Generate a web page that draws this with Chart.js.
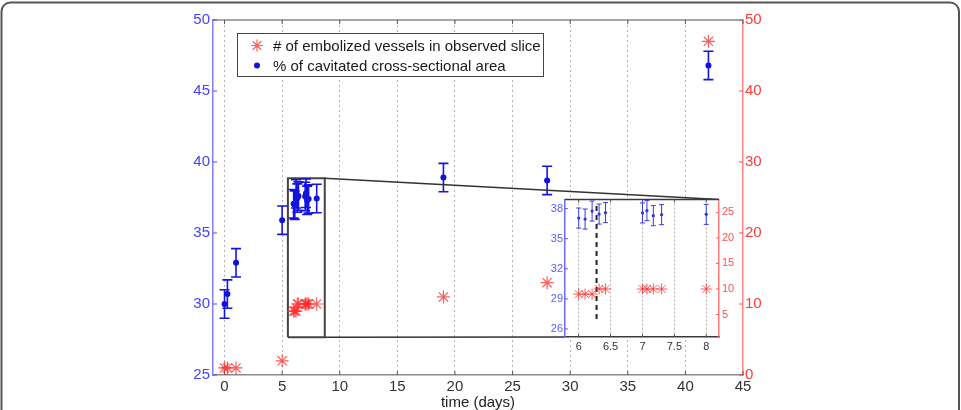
<!DOCTYPE html>
<html><head><meta charset="utf-8">
<script src="https://cdn.jsdelivr.net/npm/chart.js@4.4.0/dist/chart.umd.min.js"></script>
<style>
html,body{margin:0;padding:0;background:#fff;}
#wrap{position:relative;width:961px;height:410px;overflow:hidden;background:#fff;}
#main{position:absolute;left:0;top:0;}
#inset{position:absolute;left:535px;top:190px;}
</style></head><body>
<div id="wrap"><canvas id="main" width="961" height="410"></canvas><canvas id="inset" width="215" height="170"></canvas></div>
<script>
// ---------- data ----------
const embLabel = '# of embolized vessels in observed slice';
const cavLabel = '% of cavitated cross-sectional area';
const days     = [0, 0.25, 1, 5, 6, 6.1, 6.21, 6.32, 6.42, 7, 7.07, 7.17, 7.3, 8, 19, 28, 42];
const cavPct   = [30.0, 30.7, 32.9, 35.9, 37.06, 36.96, 37.76, 37.46, 37.6, 37.57, 37.8, 37.3, 37.4, 37.43, 38.9, 38.7, 46.8];
const cavErr   = [1, 1, 1, 1, 1, 1, 1, 1, 1, 1, 1, 1, 1, 1, 1, 1, 1];
const embCount = [1, 1, 1, 2, 9, 9, 9, 10, 10, 10, 10, 10, 10, 10, 11, 13, 47];
const xTicks          = [0, 5, 10, 15, 20, 25, 30, 35, 40, 45];
const yLeftTicks      = [25, 30, 35, 40, 45, 50];
const yRightTicks     = [0, 10, 20, 30, 40, 50];
const insetXTicks     = [6, 6.5, 7, 7.5, 8];
const insetLeftTicks  = [26, 29, 32, 35, 38];
const insetRightTicks = [5, 10, 15, 20, 25];
const zoomBoxDays = [5.5, 8.7];
const zoomBoxPct  = [27.65, 38.85];
const cutDay = 6.28;
const cutPct = [27.0, 38.5];
const insetRange = [5.785, 8.2];

// ---------- helpers ----------
const FONT = "'Liberation Sans', Arial, Helvetica, sans-serif";
const pts = (xs, ys) => xs.map((x, i) => ({x: x, y: ys[i]}));
const setTicks = arr => s => { s.ticks = arr.map(v => ({value: v})); };
const plain = v => String(v);
const inIdx = days.map((d, i) => i).filter(i => days[i] >= insetRange[0] && days[i] <= insetRange[1]);

function errorBarPlugin(cap, color, width) {
  return {
    id: 'errbars',
    afterDatasetsDraw(chart) {
      const ctx = chart.ctx;
      chart.data.datasets.forEach((ds, i) => {
        if (!ds.errors) return;
        const meta = chart.getDatasetMeta(i);
        const xs = chart.scales[meta.xAxisID], ys = chart.scales[meta.yAxisID];
        ctx.save();
        ctx.beginPath();
        ctx.rect(chart.chartArea.left, chart.chartArea.top, chart.chartArea.right - chart.chartArea.left, chart.chartArea.bottom - chart.chartArea.top);
        ctx.clip();
        ctx.strokeStyle = color; ctx.lineWidth = width;
        ctx.beginPath();
        ds.data.forEach((p, j) => {
          const e = ds.errors[j];
          const x = xs.getPixelForValue(p.x);
          const y1 = ys.getPixelForValue(p.y - e), y2 = ys.getPixelForValue(p.y + e);
          ctx.moveTo(x, y1); ctx.lineTo(x, y2);
          ctx.moveTo(x - cap, y1); ctx.lineTo(x + cap, y1);
          ctx.moveTo(x - cap, y2); ctx.lineTo(x + cap, y2);
        });
        ctx.stroke();
        ctx.restore();
      });
    }
  };
}

function inTicksPlugin(len, specs, topBorder, whiteBg) {
  return {
    id: 'inticks',
    beforeDraw(chart) {
      if (!whiteBg) return;
      const a = chart.chartArea, ctx = chart.ctx;
      ctx.save(); ctx.fillStyle = '#fff';
      ctx.fillRect(a.left, a.top, a.right - a.left, a.bottom - a.top);
      ctx.restore();
    },
    beforeDatasetsDraw(chart) {
      const {ctx, chartArea: a} = chart;
      ctx.save();
      if (topBorder) {
        ctx.strokeStyle = topBorder.color; ctx.lineWidth = topBorder.width;
        ctx.beginPath(); ctx.moveTo(a.left, a.top); ctx.lineTo(a.right, a.top); ctx.stroke();
      }
      specs.forEach(s => {
        const sc = chart.scales[s.id];
        ctx.strokeStyle = s.color; ctx.lineWidth = 1;
        ctx.beginPath();
        sc.ticks.forEach(t => {
          const p = sc.getPixelForValue(t.value);
          if (s.side === 'x') { ctx.moveTo(p, a.bottom); ctx.lineTo(p, a.bottom - len); ctx.moveTo(p, a.top); ctx.lineTo(p, a.top + len); }
          else if (s.side === 'left') { ctx.moveTo(a.left, p); ctx.lineTo(a.left + len, p); }
          else { ctx.moveTo(a.right, p); ctx.lineTo(a.right - len, p); }
        });
        ctx.stroke();
      });
      ctx.restore();
    }
  };
}

// ---------- inset chart ----------
const insetChart = new Chart(document.getElementById('inset'), {
  type: 'scatter',
  data: {
    datasets: [
      {label: cavLabel, data: pts(inIdx.map(i => days[i]), inIdx.map(i => cavPct[i])), errors: inIdx.map(i => cavErr[i]),
       yAxisID: 'yi', pointStyle: 'circle', pointRadius: 1.6, backgroundColor: '#2a2ae0', borderWidth: 0},
      {label: embLabel, data: pts(inIdx.map(i => days[i]), inIdx.map(i => embCount[i])),
       yAxisID: 'yi2', pointStyle: 'star', pointRadius: 5.5, borderColor: 'rgba(255,50,50,0.8)', borderWidth: 1},
      {label: 'cut', type: 'line', data: pts([cutDay, cutDay], cutPct), yAxisID: 'yi',
       borderColor: '#222', borderWidth: 2, borderDash: [5, 4], pointRadius: 0, fill: false}
    ]
  },
  options: {
    responsive: false, animation: false, devicePixelRatio: 1,
    layout: {padding: {top: 9, left: 0, right: 0, bottom: 0}},
    plugins: {legend: {display: false}, tooltip: {enabled: false}},
    scales: {
      x: {type: 'linear', position: 'bottom', min: insetRange[0], max: insetRange[1],
          afterBuildTicks: setTicks(insetXTicks), afterFit: s => { s.height = 23; },
          grid: {display: true, color: '#b0b0b0', lineWidth: 1, drawTicks: false},
          border: {display: true, color: '#3a3a3a', width: 1.5, dash: [2, 2]},
          ticks: {color: '#333', font: {family: FONT, size: 11}, padding: 3, maxRotation: 0, callback: plain}},
      yi: {type: 'linear', position: 'left', min: 25.2, max: 38.9,
           afterBuildTicks: setTicks(insetLeftTicks), afterFit: s => { s.width = 30; },
           grid: {display: false, drawTicks: false}, border: {display: true, color: '#6b6bff', width: 1.5},
           ticks: {color: '#5a5aff', font: {family: FONT, size: 11}, padding: 2, callback: plain}},
      yi2: {type: 'linear', position: 'right', min: 0.6, max: 27.5,
            afterBuildTicks: setTicks(insetRightTicks), afterFit: s => { s.width = 31; },
            grid: {display: false, drawTicks: false}, border: {display: true, color: '#ff7a7a', width: 1.5},
            ticks: {color: '#ff5050', font: {family: FONT, size: 11}, padding: 3, callback: plain}}
    }
  },
  plugins: [
    inTicksPlugin(3, [{id: 'yi', side: 'left', color: '#5a5aff'}, {id: 'yi2', side: 'right', color: '#ff5a5a'}, {id: 'x', side: 'x', color: '#555'}],
                  {color: '#3a3a3a', width: 1.5}, true),
    errorBarPlugin(2.5, '#3a3ae6', 1)
  ]
});

// ---------- main chart ----------
const insetCanvas = document.getElementById('inset');
const connectorPlugin = {
  id: 'connector',
  afterDatasetsDraw(chart) {
    const ctx = chart.ctx, xs = chart.scales.x, ys = chart.scales.y;
    const ia = insetChart.chartArea, ox = insetCanvas.offsetLeft, oy = insetCanvas.offsetTop;
    const bx = xs.getPixelForValue(zoomBoxDays[1]);
    const bt = ys.getPixelForValue(zoomBoxPct[1]), bb = ys.getPixelForValue(zoomBoxPct[0]);
    ctx.save();
    ctx.strokeStyle = '#333'; ctx.lineWidth = 1.5;
    ctx.beginPath();
    ctx.moveTo(bx, bt); ctx.lineTo(ox + ia.right, oy + ia.top);
    ctx.moveTo(bx, bb); ctx.lineTo(ox + ia.left, oy + ia.bottom);
    ctx.stroke();
    ctx.restore();
  }
};
const legendFramePlugin = {
  id: 'legendframe',
  afterDraw(chart) {
    const ctx = chart.ctx;
    ctx.save();
    const L = 237, T = 33, W = 306, H = 43;
    ctx.fillStyle = '#fff'; ctx.fillRect(L, T, W, H);
    ctx.strokeStyle = '#444'; ctx.lineWidth = 1; ctx.strokeRect(L + 0.5, T + 0.5, W, H);
    const ds = chart.data.datasets;
    const rows = [ds[0], ds[1]];
    rows.forEach((d, k) => {
      const cy = T + 12.5 + k * 20, mx = 257;
      if (d.pointStyle === 'star') {
        const r = 6;
        ctx.strokeStyle = d.borderColor; ctx.lineWidth = 1.2;
        ctx.beginPath();
        for (let a = 0; a < 4; a++) {
          const ang = a * Math.PI / 4;
          ctx.moveTo(mx - r * Math.cos(ang), cy - r * Math.sin(ang));
          ctx.lineTo(mx + r * Math.cos(ang), cy + r * Math.sin(ang));
        }
        ctx.stroke();
      } else {
        ctx.fillStyle = d.backgroundColor;
        ctx.beginPath(); ctx.arc(mx, cy, 3, 0, Math.PI * 2); ctx.fill();
      }
      ctx.fillStyle = '#1a1a1a';
      ctx.font = '15px ' + FONT;
      ctx.textBaseline = 'middle';
      ctx.fillText(d.label, 273, cy + 1);
    });
    ctx.strokeStyle = '#555'; ctx.lineWidth = 2;
    const x0 = 1.5, y0 = 2.5, x1 = 959, y1 = 430, r = 9;
    ctx.beginPath();
    ctx.moveTo(x0 + r, y0); ctx.lineTo(x1 - r, y0); ctx.arcTo(x1, y0, x1, y0 + r, r);
    ctx.lineTo(x1, y1); ctx.moveTo(x0, y1); ctx.lineTo(x0, y0 + r); ctx.arcTo(x0, y0, x0 + r, y0, r);
    ctx.stroke();
    ctx.restore();
  }
};

const boxXs = [zoomBoxDays[0], zoomBoxDays[0], zoomBoxDays[1], zoomBoxDays[1], zoomBoxDays[0]];
const boxYs = [zoomBoxPct[0], zoomBoxPct[1], zoomBoxPct[1], zoomBoxPct[0], zoomBoxPct[0]];

new Chart(document.getElementById('main'), {
  type: 'scatter',
  data: {
    datasets: [
      {label: embLabel, data: pts(days, embCount), yAxisID: 'y2',
       pointStyle: 'star', pointRadius: 6.5, borderColor: 'rgba(255,40,40,0.75)', borderWidth: 1.2},
      {label: cavLabel, data: pts(days, cavPct), errors: cavErr, yAxisID: 'y',
       pointStyle: 'circle', pointRadius: 3, backgroundColor: '#1010e0', borderWidth: 0},
      {label: 'zoom', type: 'line', data: pts(boxXs, boxYs), yAxisID: 'y',
       borderColor: '#444', borderWidth: 2, pointRadius: 0, fill: false, tension: 0}
    ]
  },
  options: {
    responsive: false, animation: false, devicePixelRatio: 1,
    layout: {padding: {top: 20, left: 0, right: 0, bottom: 0}},
    plugins: {legend: {display: false}, tooltip: {enabled: false}},
    scales: {
      x: {type: 'linear', position: 'bottom', min: -1, max: 45,
          afterBuildTicks: setTicks(xTicks), afterFit: s => { s.height = 35; },
          grid: {display: true, drawTicks: false, lineWidth: 1,
                 color: c => (c.tick && c.tick.value === 45) ? 'rgba(0,0,0,0)' : '#b4b4b4'},
          border: {display: true, color: '#8a8a8a', width: 1.5, dash: [2, 3]},
          ticks: {color: '#333', font: {family: FONT, size: 15}, padding: 3, maxRotation: 0},
          title: {display: true, text: 'time (days)', color: '#222', font: {family: FONT, size: 15, lineHeight: 1}, padding: {top: 0, bottom: 0}}},
      y: {type: 'linear', position: 'left', min: 25, max: 50,
          afterBuildTicks: setTicks(yLeftTicks), afterFit: s => { s.width = 213; },
          grid: {display: false, drawTicks: false}, border: {display: true, color: '#7f7fff', width: 1.5},
          ticks: {color: '#4343ff', font: {family: FONT, size: 15}, padding: 3}},
      y2: {type: 'linear', position: 'right', min: 0, max: 50,
           afterBuildTicks: setTicks(yRightTicks), afterFit: s => { s.width = 218; },
           grid: {display: false, drawTicks: false}, border: {display: true, color: '#ff8585', width: 1.5},
           ticks: {color: '#ff3a3a', font: {family: FONT, size: 15}, padding: 2}}
    }
  },
  plugins: [
    inTicksPlugin(4, [{id: 'y', side: 'left', color: '#4a4aff'}, {id: 'y2', side: 'right', color: '#ff4a4a'}, {id: 'x', side: 'x', color: '#555'}],
                  {color: '#8a8a8a', width: 1.5}, false),
    errorBarPlugin(5, '#1414e0', 1.6),
    connectorPlugin,
    legendFramePlugin
  ]
});
</script>
</body></html>
